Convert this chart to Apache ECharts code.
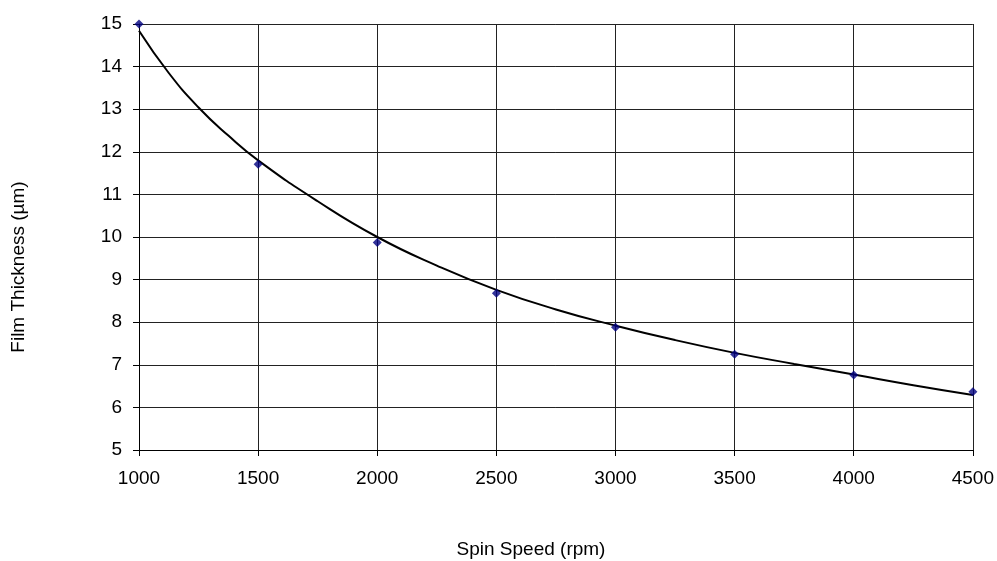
<!DOCTYPE html>
<html>
<head>
<meta charset="utf-8">
<script src="https://cdn.jsdelivr.net/npm/echarts@6/dist/echarts.min.js"></script>
<style>
  html, body { margin: 0; padding: 0; background: #fff; }
  #chart { width: 997px; height: 561px; }
</style>
</head>
<body>
<div id="chart"></div>
<script>
// measured points
const speeds = [1000, 1500, 2000, 2500, 3000, 3500, 4000, 4500];
const thickness = [15.0, 11.71, 9.87, 8.68, 7.88, 7.25, 6.76, 6.37];

// trend line
const trendSpeeds = [1000, 1125, 1250, 1375, 1500, 1750, 2000, 2250, 2500, 2750, 3000, 3250, 3500, 3750, 4000, 4250, 4500];
const trendValues = [14.84, 13.85, 13.04, 12.38, 11.8, 10.84, 10.0, 9.33, 8.76, 8.3, 7.92, 7.58, 7.28, 7.02, 6.77, 6.52, 6.29];

const xTicks = { min: 1000, max: 4500, step: 500 };
const yTicks = { min: 5, max: 15, step: 1 };

const chart = echarts.init(document.getElementById('chart'));
const font = 'Liberation Sans, Arial, sans-serif';

chart.setOption({
    animation: false,
    grid: { left: 139, right: 23, top: 24, bottom: 111 },
    xAxis: {
        type: 'value',
        min: xTicks.min, max: xTicks.max, interval: xTicks.step,
        axisLine: { lineStyle: { color: '#000', width: 1 } },
        axisTick: { show: true, length: 6, lineStyle: { color: '#000' } },
        axisLabel: { color: '#000', fontSize: 19, fontFamily: font, margin: 19,
                     formatter: v => String(v) },
        splitLine: { show: true, lineStyle: { color: '#222', width: 1 } }
    },
    yAxis: {
        type: 'value',
        min: yTicks.min, max: yTicks.max, interval: yTicks.step,
        axisLine: { show: true, lineStyle: { color: '#000', width: 1 } },
        axisTick: { show: true, length: 6, lineStyle: { color: '#000' } },
        axisLabel: { color: '#000', fontSize: 19, fontFamily: font, margin: 17 },
        splitLine: { show: true, lineStyle: { color: '#222', width: 1 } }
    },
    graphic: [
        {
            type: 'text', x: 531, y: 550,
            style: { text: 'Spin Speed (rpm)', fontSize: 19, fontFamily: font, fill: '#000',
                     align: 'center', verticalAlign: 'middle' }
        },
        {
            type: 'text', x: 19, y: 267, rotation: Math.PI / 2,
            style: { text: 'Film Thickness (µm)', fontSize: 19, fontFamily: font, fill: '#000',
                     align: 'center', verticalAlign: 'middle' }
        }
    ],
    series: [
        {
            type: 'line',
            data: trendSpeeds.map((s, i) => [s, trendValues[i]]),
            smooth: true,
            showSymbol: false,
            lineStyle: { color: '#000', width: 2 },
            z: 3
        },
        {
            type: 'scatter',
            data: speeds.map((s, i) => [s, thickness[i]]),
            symbol: 'diamond',
            symbolSize: 9,
            itemStyle: { color: '#00007f' },
            clip: false,
            z: 4
        }
    ]
});
</script>
</body>
</html>
